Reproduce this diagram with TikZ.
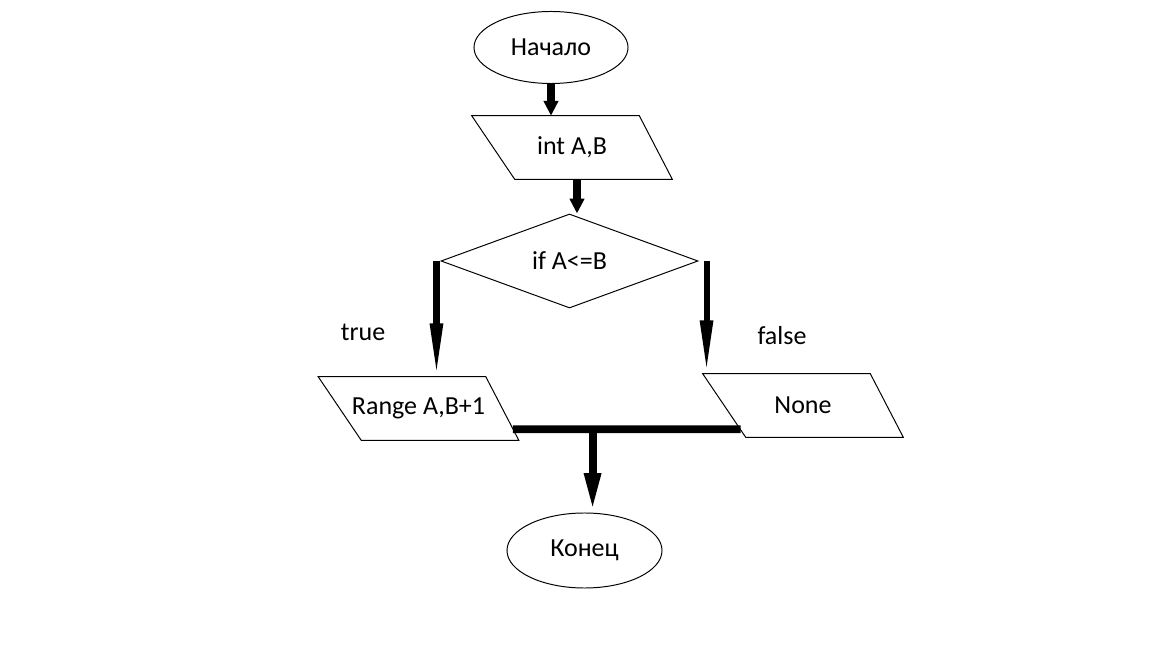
\documentclass[tikz,border=0pt]{standalone}
\usepackage{fontspec}
\setmainfont{Carlito}
\usetikzlibrary{arrows.meta,shapes.geometric,calc}

\begin{document}
\begin{tikzpicture}[x=0.025cm,y=-0.025cm,
        every node/.style={font=\fontsize{18.5}{22}\selectfont},
        term/.style={draw,line width=0.7pt,ellipse,inner sep=0pt,minimum width=3.85cm,minimum height=1.8cm},
        io/.style={inner sep=0pt,minimum width=5cm,minimum height=1.575cm},
        cond/.style={draw,line width=0.7pt,diamond,inner sep=0pt,minimum width=6.425cm,minimum height=2.35cm},
        shortarrow/.style={line width=6pt,-{Triangle[length=10.5pt,width=10pt]}},
        longarrow/.style={line width=4.3pt,-{Triangle[length=38pt,width=8.5pt]}},
        mergearrow/.style={line width=5.7pt,-{Triangle[length=28pt,width=10.7pt]}},
        mergeline/.style={line width=5.5pt}]
        \useasboundingbox (0,0) rectangle (1152,648);

        \node[term] (start) at (551,47.5) {Начало};
        \node[io] (inp) at (572,147.5) {int A,B};
        \node[cond] (dec) at (569.5,261) {if A<=B};
        \node[io] (rng) at (418.5,408.5) {Range A,B+1};
        \node[io] (non) at (803,405.5) {None};
        \node[term,minimum width=3.875cm,minimum height=1.875cm] (end) at (584.5,550.5) {Конец};

        \foreach \n in {inp,rng,non}
          \draw[line width=0.7pt] (\n.north west) -- ([xshift=-0.825cm]\n.north east) -- (\n.south east) -- ([xshift=1.075cm]\n.south west) -- cycle;

        \node (truelbl) at (363,332) {true};
        \node (falselbl) at (782,336) {false};

        \draw[shortarrow] (start.south) -- (start.south |- inp.north);
        \draw[shortarrow] ([xshift=0.125cm]inp.south) -- ([xshift=0.125cm]inp.south |- dec.north);

        \draw[longarrow] ([xshift=-0.1cm]dec.west) -- ([xshift=-0.1cm]dec.west |- rng.north);
        \draw[longarrow] ([xshift=0.2cm]dec.east) -- ([xshift=0.2cm]dec.east |- non.north);

        \coordinate (mleft) at ([xshift=-0.15cm,yshift=0.275cm]rng.south east);
        \coordinate (mright) at ([xshift=0.95cm,yshift=0.2cm]non.south west);
        \coordinate (merge) at ($(mleft)!0.35!(mright)$);
        \draw[mergeline] (mleft) -- (mright);
        \draw[mergearrow] (merge) -- (merge |- end.north);
\end{tikzpicture}
\end{document}
